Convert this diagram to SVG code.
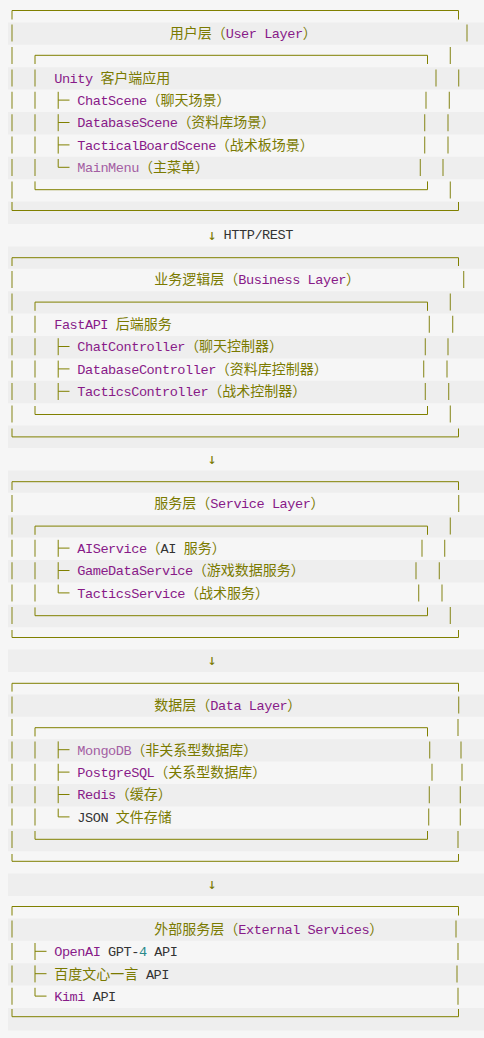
<svg xmlns="http://www.w3.org/2000/svg" width="484" height="1038" viewBox="0 0 484 1038">
<style>
.st{fill:#eeeeee}
.ln{stroke:#808000;stroke-width:1;fill:none}
.vb{stroke:#8e8e28;stroke-width:1.1;fill:none}
text{font-family:"Liberation Mono","DejaVu Sans Mono",monospace;font-size:13.6px;letter-spacing:-0.46px}
.e{font-family:"Liberation Mono","DejaVu Sans Mono",monospace;font-size:13.6px;letter-spacing:-0.46px}
.c{font-family:"Noto Sans CJK SC","Noto Sans",sans-serif;font-size:14px;letter-spacing:0}
.ar{font-family:"DejaVu Sans Mono",monospace;font-size:15px;letter-spacing:0;fill:#7a7a00}
.o{fill:#7a7a00}
.p{fill:#881a88}
.pl{fill:#a35ea3}
.k{fill:#333333}
.t{fill:#2a8a8a}
</style>
<rect x="0" y="0" width="484" height="1038" fill="#f6f6f6"/>
<g id="stripes">
<rect class="st" x="8" y="22.4" width="476" height="22.4"/>
<rect class="st" x="8" y="67.2" width="476" height="22.4"/>
<rect class="st" x="8" y="112" width="476" height="22.4"/>
<rect class="st" x="8" y="156.8" width="476" height="22.4"/>
<rect class="st" x="8" y="201.6" width="476" height="22.4"/>
<rect class="st" x="8" y="246.4" width="476" height="22.4"/>
<rect class="st" x="8" y="291.2" width="476" height="22.4"/>
<rect class="st" x="8" y="336" width="476" height="22.4"/>
<rect class="st" x="8" y="380.8" width="476" height="22.4"/>
<rect class="st" x="8" y="425.6" width="476" height="22.4"/>
<rect class="st" x="8" y="470.4" width="476" height="22.4"/>
<rect class="st" x="8" y="515.2" width="476" height="22.4"/>
<rect class="st" x="8" y="560" width="476" height="22.4"/>
<rect class="st" x="8" y="604.8" width="476" height="22.4"/>
<rect class="st" x="8" y="649.6" width="476" height="22.4"/>
<rect class="st" x="8" y="694.4" width="476" height="22.4"/>
<rect class="st" x="8" y="739.2" width="476" height="22.4"/>
<rect class="st" x="8" y="784" width="476" height="22.4"/>
<rect class="st" x="8" y="828.8" width="476" height="22.4"/>
<rect class="st" x="8" y="873.6" width="476" height="22.4"/>
<rect class="st" x="8" y="918.4" width="476" height="22.4"/>
<rect class="st" x="8" y="963.2" width="476" height="22.4"/>
<rect class="st" x="8" y="1008" width="476" height="22.4"/>
</g>

<g id="user-layer">
<path class="ln" d="M12,19.5 V10.5 H458.5 V19.5 M12,202 V210.5 H458.5 V202 M35,64 V55.3 H427.5 V64 M35,181.4 V189.7 H427.5 V181.4"/>
<path class="vb" d="M12,24.6V41.6 M12,47V64 M12,69.4V86.4 M12,91.8V108.8 M12,114.2V131.2 M12,136.6V153.6 M12,159V176 M12,181.4V198.4
M35,69.4V86.4 M35,91.8V108.8 M35,114.2V131.2 M35,136.6V153.6 M35,159V176
M467,24.6V41.6 M450.3,47V64 M436,69.4V86.4 M458.7,69.4V86.4 M426,91.8V108.8 M449.3,91.8V108.8 M424.7,114.2V131.2 M448,114.2V131.2 M424.7,136.6V153.6 M448,136.6V153.6 M420.3,159V176 M443,159V176 M450.3,181.4V198.4"/>
<path class="ln" d="M58.2,91.8V108.8 M58.2,100.1H69.5 M58.2,114.2V131.2 M58.2,122.5H69.5 M58.2,136.6V153.6 M58.2,144.9H69.5 M58.2,159V167.3H69.5"/>
<text xml:space="preserve" x="169.7" y="37.8"><tspan class="c o">用户层（</tspan><tspan class="e p">User Layer</tspan><tspan class="c o">）</tspan></text>
<text xml:space="preserve" x="54.2" y="82.6"><tspan class="e p">Unity </tspan><tspan class="c o">客户端应用</tspan></text>
<text xml:space="preserve" x="77.3" y="105"><tspan class="e p">ChatScene</tspan><tspan class="c o">（聊天场景）</tspan></text>
<text xml:space="preserve" x="77.3" y="127.4"><tspan class="e p">DatabaseScene</tspan><tspan class="c o">（资料库场景）</tspan></text>
<text xml:space="preserve" x="77.3" y="149.8"><tspan class="e p">TacticalBoardScene</tspan><tspan class="c o">（战术板场景）</tspan></text>
<text xml:space="preserve" x="77.3" y="172.2"><tspan class="e pl">MainMenu</tspan><tspan class="c o">（主菜单）</tspan></text>
</g>

<g id="business-layer">
<path class="ln" d="M12,266 V257.7 H458.5 V266 M12,428.5 V436.9 H458.5 V428.5 M35,310.8 V302.1 H427.5 V310.8 M35,406 V414.5 H427.5 V406"/>
<path class="vb" d="M12,271V288 M12,293.4V310.4 M12,315.8V332.8 M12,338.2V355.2 M12,360.6V377.6 M12,383V400 M12,405.4V422.4
M35,315.8V332.8 M35,338.2V355.2 M35,360.6V377.6 M35,383V400
M463.7,271V288 M450.3,293.4V310.4 M429.3,315.8V332.8 M452.7,315.8V332.8 M425.3,338.2V355.2 M448,338.2V355.2 M423.7,360.6V377.6 M447,360.6V377.6 M425.3,383V400 M448.7,383V400 M450.3,405.4V422.4"/>
<path class="ln" d="M58.2,338.2V355.2 M58.2,346.5H69.5 M58.2,360.6V377.6 M58.2,368.9H69.5 M58.2,383V400 M58.2,391.3H69.5"/>
<text xml:space="preserve" x="154.3" y="284.2"><tspan class="c o">业务逻辑层（</tspan><tspan class="e p">Business Layer</tspan><tspan class="c o">）</tspan></text>
<text xml:space="preserve" x="54.2" y="329"><tspan class="e p">FastAPI </tspan><tspan class="c o">后端服务</tspan></text>
<text xml:space="preserve" x="77.3" y="351.4"><tspan class="e p">ChatController</tspan><tspan class="c o">（聊天控制器）</tspan></text>
<text xml:space="preserve" x="77.3" y="373.8"><tspan class="e p">DatabaseController</tspan><tspan class="c o">（资料库控制器）</tspan></text>
<text xml:space="preserve" x="77.3" y="396.2"><tspan class="e p">TacticsController</tspan><tspan class="c o">（战术控制器）</tspan></text>
</g>

<g id="service-layer">
<path class="ln" d="M12,490 V481.7 H458.5 V490 M12,630 V637.5 H458.5 V630 M35,534.8 V526.1 H427.5 V534.8 M35,607.4 V615.7 H427.5 V607.4"/>
<path class="vb" d="M12,495V512 M12,517.4V534.4 M12,539.8V556.8 M12,562.2V579.2 M12,584.6V601.6 M12,607V624
M35,539.8V556.8 M35,562.2V579.2 M35,584.6V601.6
M458.7,495V512 M450.3,517.4V534.4 M422,539.8V556.8 M444.7,539.8V556.8 M416,562.2V579.2 M439.3,562.2V579.2 M418.7,584.6V601.6 M442,584.6V601.6 M450.3,607V624"/>
<path class="ln" d="M58.2,539.8V556.8 M58.2,548.1H69.5 M58.2,562.2V579.2 M58.2,570.5H69.5 M58.2,584.6V592.9H69.5"/>
<text xml:space="preserve" x="154.3" y="508.2"><tspan class="c o">服务层（</tspan><tspan class="e p">Service Layer</tspan><tspan class="c o">）</tspan></text>
<text xml:space="preserve" x="77.3" y="553"><tspan class="e p">AIService</tspan><tspan class="c o">（</tspan><tspan class="e k">AI </tspan><tspan class="c o">服务）</tspan></text>
<text xml:space="preserve" x="77.3" y="575.4"><tspan class="e p">GameDataService</tspan><tspan class="c o">（游戏数据服务）</tspan></text>
<text xml:space="preserve" x="77.3" y="597.8"><tspan class="e p">TacticsService</tspan><tspan class="c o">（战术服务）</tspan></text>
</g>

<g id="data-layer">
<path class="ln" d="M12,691.6 V683.3 H458.5 V691.6 M12,854 V861.3 H458.5 V854 M35,736.4 V727.7 H427.5 V736.4 M35,831 V839.3 H427.5 V831"/>
<path class="vb" d="M12,696.6V713.6 M12,719V736 M12,741.4V758.4 M12,763.8V780.8 M12,786.2V803.2 M12,808.6V825.6 M12,831V848
M35,741.4V758.4 M35,763.8V780.8 M35,786.2V803.2 M35,808.6V825.6
M458.7,696.6V713.6 M458,719V736 M429.7,741.4V758.4 M461,741.4V758.4 M432,763.8V780.8 M462,763.8V780.8 M429.3,786.2V803.2 M460.3,786.2V803.2 M428.7,808.6V825.6 M460.3,808.6V825.6 M458,831V848"/>
<path class="ln" d="M58.2,741.4V758.4 M58.2,749.7H69.5 M58.2,763.8V780.8 M58.2,772.1H69.5 M58.2,786.2V803.2 M58.2,794.5H69.5 M58.2,808.6V816.9H69.5"/>
<text xml:space="preserve" x="154.3" y="709.8"><tspan class="c o">数据层（</tspan><tspan class="e p">Data Layer</tspan><tspan class="c o">）</tspan></text>
<text xml:space="preserve" x="77.3" y="754.6"><tspan class="e pl">MongoDB</tspan><tspan class="c o">（非关系型数据库）</tspan></text>
<text xml:space="preserve" x="77.3" y="777"><tspan class="e p">PostgreSQL</tspan><tspan class="c o">（关系型数据库）</tspan></text>
<text xml:space="preserve" x="77.3" y="799.4"><tspan class="e p">Redis</tspan><tspan class="c o">（缓存）</tspan></text>
<text xml:space="preserve" x="77.3" y="821.8"><tspan class="e k">JSON </tspan><tspan class="c o">文件存储</tspan></text>
</g>

<g id="external-layer">
<path class="ln" d="M12,915.5 V906.5 H458.5 V915.5 M12,1009 V1016.7 H458.5 V1009"/>
<path class="vb" d="M12,920.6V937.6 M12,943V960 M12,965.4V982.4 M12,987.8V1004.8
M456,920.6V937.6 M458,943V960 M457,965.4V982.4 M458,987.8V1004.8"/>
<path class="ln" d="M35,943V960 M35,951.3H46.5 M35,965.4V982.4 M35,973.7H46.5 M35,987.8V996.1H46.5"/>
<text xml:space="preserve" x="154.3" y="933.8"><tspan class="c o">外部服务层（</tspan><tspan class="e p">External Services</tspan><tspan class="c o">）</tspan></text>
<text xml:space="preserve" x="54.2" y="956.2"><tspan class="e p">OpenAI</tspan><tspan class="e k"> GPT-</tspan><tspan class="e t">4</tspan><tspan class="e k"> API</tspan></text>
<text xml:space="preserve" x="54.2" y="978.6"><tspan class="c o">百度文心一言</tspan><tspan class="e k"> API</tspan></text>
<text xml:space="preserve" x="54.2" y="1001"><tspan class="e p">Kimi</tspan><tspan class="e k"> API</tspan></text>
</g>

<g id="connectors">
<text x="212" y="239.8" class="ar" text-anchor="middle">↓</text>
<text xml:space="preserve" x="223.6" y="239.4" class="e k">HTTP/REST</text>
<text x="212" y="463.8" class="ar" text-anchor="middle">↓</text>
<text x="212" y="665.4" class="ar" text-anchor="middle">↓</text>
<text x="212" y="889.4" class="ar" text-anchor="middle">↓</text>
</g>
</svg>
